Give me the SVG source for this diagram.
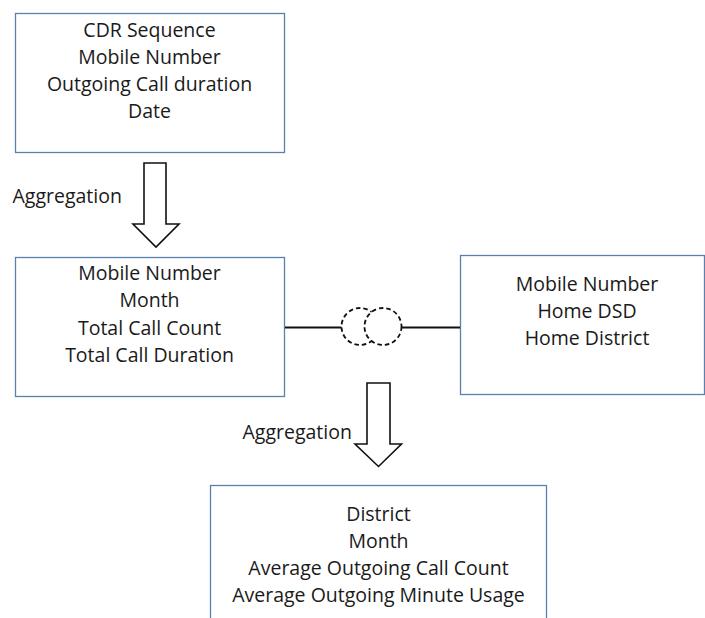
<svg xmlns="http://www.w3.org/2000/svg" width="705" height="618" viewBox="0 0 705 618">
<style>
.box{fill:#fff;stroke:#5b80ad;stroke-width:1.3}
.t{font-family:"Open Sans","Noto Sans",sans-serif;font-size:19.5px;fill:#1a1a1a;text-anchor:middle}
.lbl{font-family:"Open Sans","Noto Sans",sans-serif;font-size:19.5px;fill:#1a1a1a}
.arrow{fill:#fff;stroke:#111;stroke-width:1.6;stroke-linejoin:miter}
.link{stroke:#111;stroke-width:2;fill:none}
.ring{fill:#fff;stroke:#111;stroke-width:1.8;stroke-dasharray:4.5 3}
</style>
<rect width="705" height="618" fill="#fff"/>
<g id="node-cdr">
<rect class="box" x="15.5" y="13.5" width="269" height="139"/>
<text class="t" x="149.5" y="37">CDR Sequence</text>
<text class="t" x="149.5" y="64">Mobile Number</text>
<text class="t" x="149.5" y="91">Outgoing Call duration</text>
<text class="t" x="149.5" y="118">Date</text>
</g>
<g id="node-monthly">
<rect class="box" x="15.5" y="257.5" width="269" height="139"/>
<text class="t" x="149.5" y="280">Mobile Number</text>
<text class="t" x="149.5" y="307">Month</text>
<text class="t" x="149.5" y="335">Total Call Count</text>
<text class="t" x="149.5" y="362">Total Call Duration</text>
</g>
<g id="node-home">
<rect class="box" x="460.5" y="255.5" width="244" height="139"/>
<text class="t" x="587" y="291">Mobile Number</text>
<text class="t" x="587" y="318">Home DSD</text>
<text class="t" x="587" y="345">Home District</text>
</g>
<g id="node-district">
<rect class="box" x="210.5" y="485.5" width="336" height="160"/>
<text class="t" x="378.5" y="521">District</text>
<text class="t" x="378.5" y="548">Month</text>
<text class="t" x="378.5" y="575">Average Outgoing Call Count</text>
<text class="t" x="378.5" y="602">Average Outgoing Minute Usage</text>
</g>
<g id="connectors">
<polygon class="arrow" points="144,163 166,163 166,224 179,224 156,247 133,224 144,224"/>
<text class="lbl" x="12.5" y="202.5">Aggregation</text>
<line class="link" x1="285" y1="327.5" x2="341.5" y2="327.5"/>
<line class="link" x1="401.5" y1="327.5" x2="460" y2="327.5"/>
<circle class="ring" cx="360" cy="326.5" r="18.5"/>
<circle class="ring" cx="383" cy="326.5" r="18.5"/>
<polygon class="arrow" points="367,383 390,383 390,444 401.5,444 378.5,466.5 355,444 367,444"/>
<text class="lbl" x="242.5" y="438.5">Aggregation</text>
</g>
</svg>
